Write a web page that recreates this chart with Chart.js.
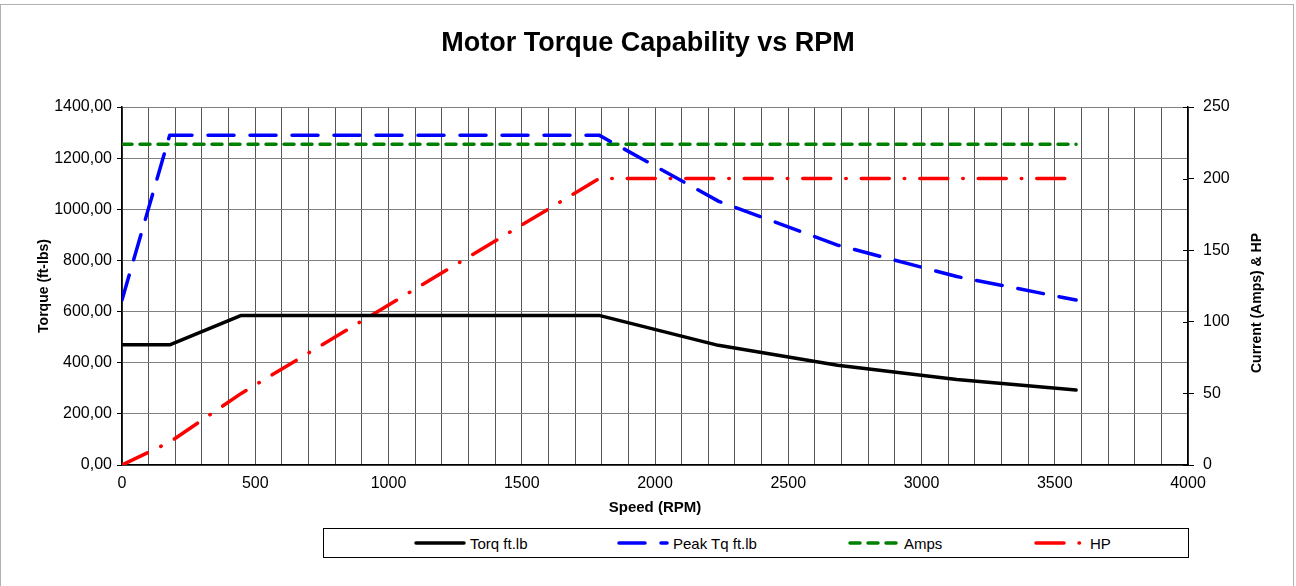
<!DOCTYPE html>
<html>
<head>
<meta charset="utf-8">
<script src="https://cdn.jsdelivr.net/npm/chart.js@4"></script>
<style>
  body { margin: 0; background: #fff; font-family: "Liberation Sans", Arial, sans-serif; }
  #wrap { position: relative; width: 1296px; height: 586px; overflow: hidden; }
  #frame { position: absolute; left: 0; top: 4px; width: 1292px; height: 620px; border: 1px solid #b0b0b0; }
  #myChart { position: absolute; left: 0; top: 0; }
  #legend { position: absolute; left: 323px; top: 528px; width: 864px; height: 28px; border: 1px solid #000; background: #fff; }
  .item { position: absolute; top: 0; height: 28px; display: flex; align-items: center; font-size: 15px; color: #000; }
  .item svg { margin-right: 4px; }
</style>
</head>
<body>
<div id="wrap">
  <div id="frame"></div>
  <canvas id="myChart" width="1296" height="586"></canvas>
  <div id="legend"></div>
</div>
<script>
// speed points (RPM)
const rpm = [0, 179, 447.5, 1790, 2237.5, 2685, 3132.5, 3580];
// torque in ft-lb (left axis)
const torque = [470, 470, 585, 585, 468, 390, 334, 293];
const peakTorque = [645, 1290, 1290, 1290, 1032, 860, 737, 645];
// amps and hp (right axis)
const amps = [224, 224, 224, 224, 224, 224, 224, 224];
const hp = [0, 16, 50, 200, 200, 200, 200, 200];

const seriesNames = ['Torq ft.lb', 'Peak Tq ft.lb', 'Amps', 'HP'];
const seriesColors = ['#000000', '#0000ff', '#008000', '#ff0000'];
const seriesDash = [[], [26, 16], [10, 8], [28, 15, 0.5, 15]];

function pts(ys) {
  return rpm.map((x, i) => ({ x: x, y: ys[i] }));
}

Chart.defaults.font.family = '"Liberation Sans", Arial, sans-serif';
Chart.defaults.color = '#000';

function makeSet(i, values, axis) {
  return {
    label: seriesNames[i],
    data: pts(values),
    yAxisID: axis,
    borderColor: seriesColors[i],
    backgroundColor: seriesColors[i],
    borderWidth: 3.5,
    borderDash: seriesDash[i],
    borderCapStyle: 'round',
    borderJoinStyle: 'round',
    pointRadius: 0,
    tension: 0,
    fill: false
  };
}

// right axis title reads bottom-to-top, plus tick marks crossing the axis
const rightAxisExtras = {
  id: 'rightAxisExtras',
  afterDraw(chart) {
    const c = chart.ctx;
    const s = chart.scales.y1;
    c.save();
    c.strokeStyle = '#000';
    c.lineWidth = 1;
    s.ticks.forEach(t => {
      const py = Math.round(s.getPixelForValue(t.value)) + 0.5;
      c.beginPath();
      c.moveTo(s.left - 5, py);
      c.lineTo(s.left, py);
      c.stroke();
    });
    c.translate(1257, 303);
    c.rotate(-Math.PI / 2);
    c.font = 'bold 14px "Liberation Sans", Arial, sans-serif';
    c.fillStyle = '#000';
    c.textAlign = 'center';
    c.textBaseline = 'middle';
    c.fillText('Current (Amps) & HP', 0, 0);
    c.restore();
  }
};

let ctx = document.getElementById('myChart').getContext('2d');
let chart = new Chart(ctx, {
  type: 'line',
  data: {
    datasets: [
      makeSet(0, torque, 'y'),
      makeSet(1, peakTorque, 'y'),
      makeSet(2, amps, 'y1'),
      makeSet(3, hp, 'y1')
    ]
  },
  plugins: [rightAxisExtras],
  options: {
    responsive: false,
    animation: false,
    layout: { padding: { left: 0, right: 0, top: 0, bottom: 61 } },
    plugins: {
      legend: { display: false },
      tooltip: { enabled: false },
      title: {
        display: true,
        text: 'Motor Torque Capability vs RPM',
        font: { size: 27, weight: 'bold' },
        color: '#000',
        padding: { top: 27, bottom: 47.6 }
      }
    },
    scales: {
      x: {
        type: 'linear',
        min: 0,
        max: 4000,
        afterFit: s => { s.height = 60; },
        ticks: {
          stepSize: 100,
          maxTicksLimit: 60,
          autoSkip: false,
          maxRotation: 0,
          padding: 9,
          font: { size: 16 },
          callback: v => (v % 500 === 0 ? String(v) : '')
        },
        grid: { color: '#555555', lineWidth: 1, drawTicks: false },
        border: { color: '#000', width: 1.5 },
        title: {
          display: true,
          text: 'Speed (RPM)',
          font: { size: 15, weight: 'bold' },
          padding: { top: 0, bottom: 8 }
        }
      },
      y: {
        position: 'left',
        min: 0,
        max: 1400,
        afterFit: s => { s.width = 122; },
        ticks: {
          stepSize: 200,
          padding: 5,
          font: { size: 16 },
          callback: v => v.toFixed(2).replace('.', ',')
        },
        grid: { color: '#808080', lineWidth: 1, tickLength: 5, tickColor: '#000' },
        border: { color: '#000', width: 1.5 },
        title: {
          display: true,
          text: 'Torque (ft-lbs)',
          font: { size: 14, weight: 'bold' },
          padding: { top: 36, bottom: 0 }
        }
      },
      y1: {
        position: 'right',
        min: 0,
        max: 250,
        afterFit: s => { s.width = 108; },
        ticks: { stepSize: 50, padding: 9, font: { size: 16 } },
        grid: { drawOnChartArea: false, tickLength: 6, tickColor: '#000' },
        border: { color: '#000', width: 1.5 },
        title: { display: false }
      }
    }
  }
});

// legend below the chart, in a box
const legendLeft = [90, 293, 524, 710];
const legend = document.getElementById('legend');
seriesNames.forEach((name, i) => {
  const item = document.createElement('div');
  item.className = 'item';
  item.style.left = legendLeft[i] + 'px';
  const dash = seriesDash[i].length ? seriesDash[i].join(' ') : 'none';
  item.innerHTML =
    '<svg width="52" height="8"><line x1="2" y1="4" x2="50" y2="4" stroke="' + seriesColors[i] +
    '" stroke-width="3.5" stroke-linecap="round" stroke-dasharray="' + dash + '"/></svg>' +
    '<span>' + name + '</span>';
  legend.appendChild(item);
});
</script>
</body>
</html>
